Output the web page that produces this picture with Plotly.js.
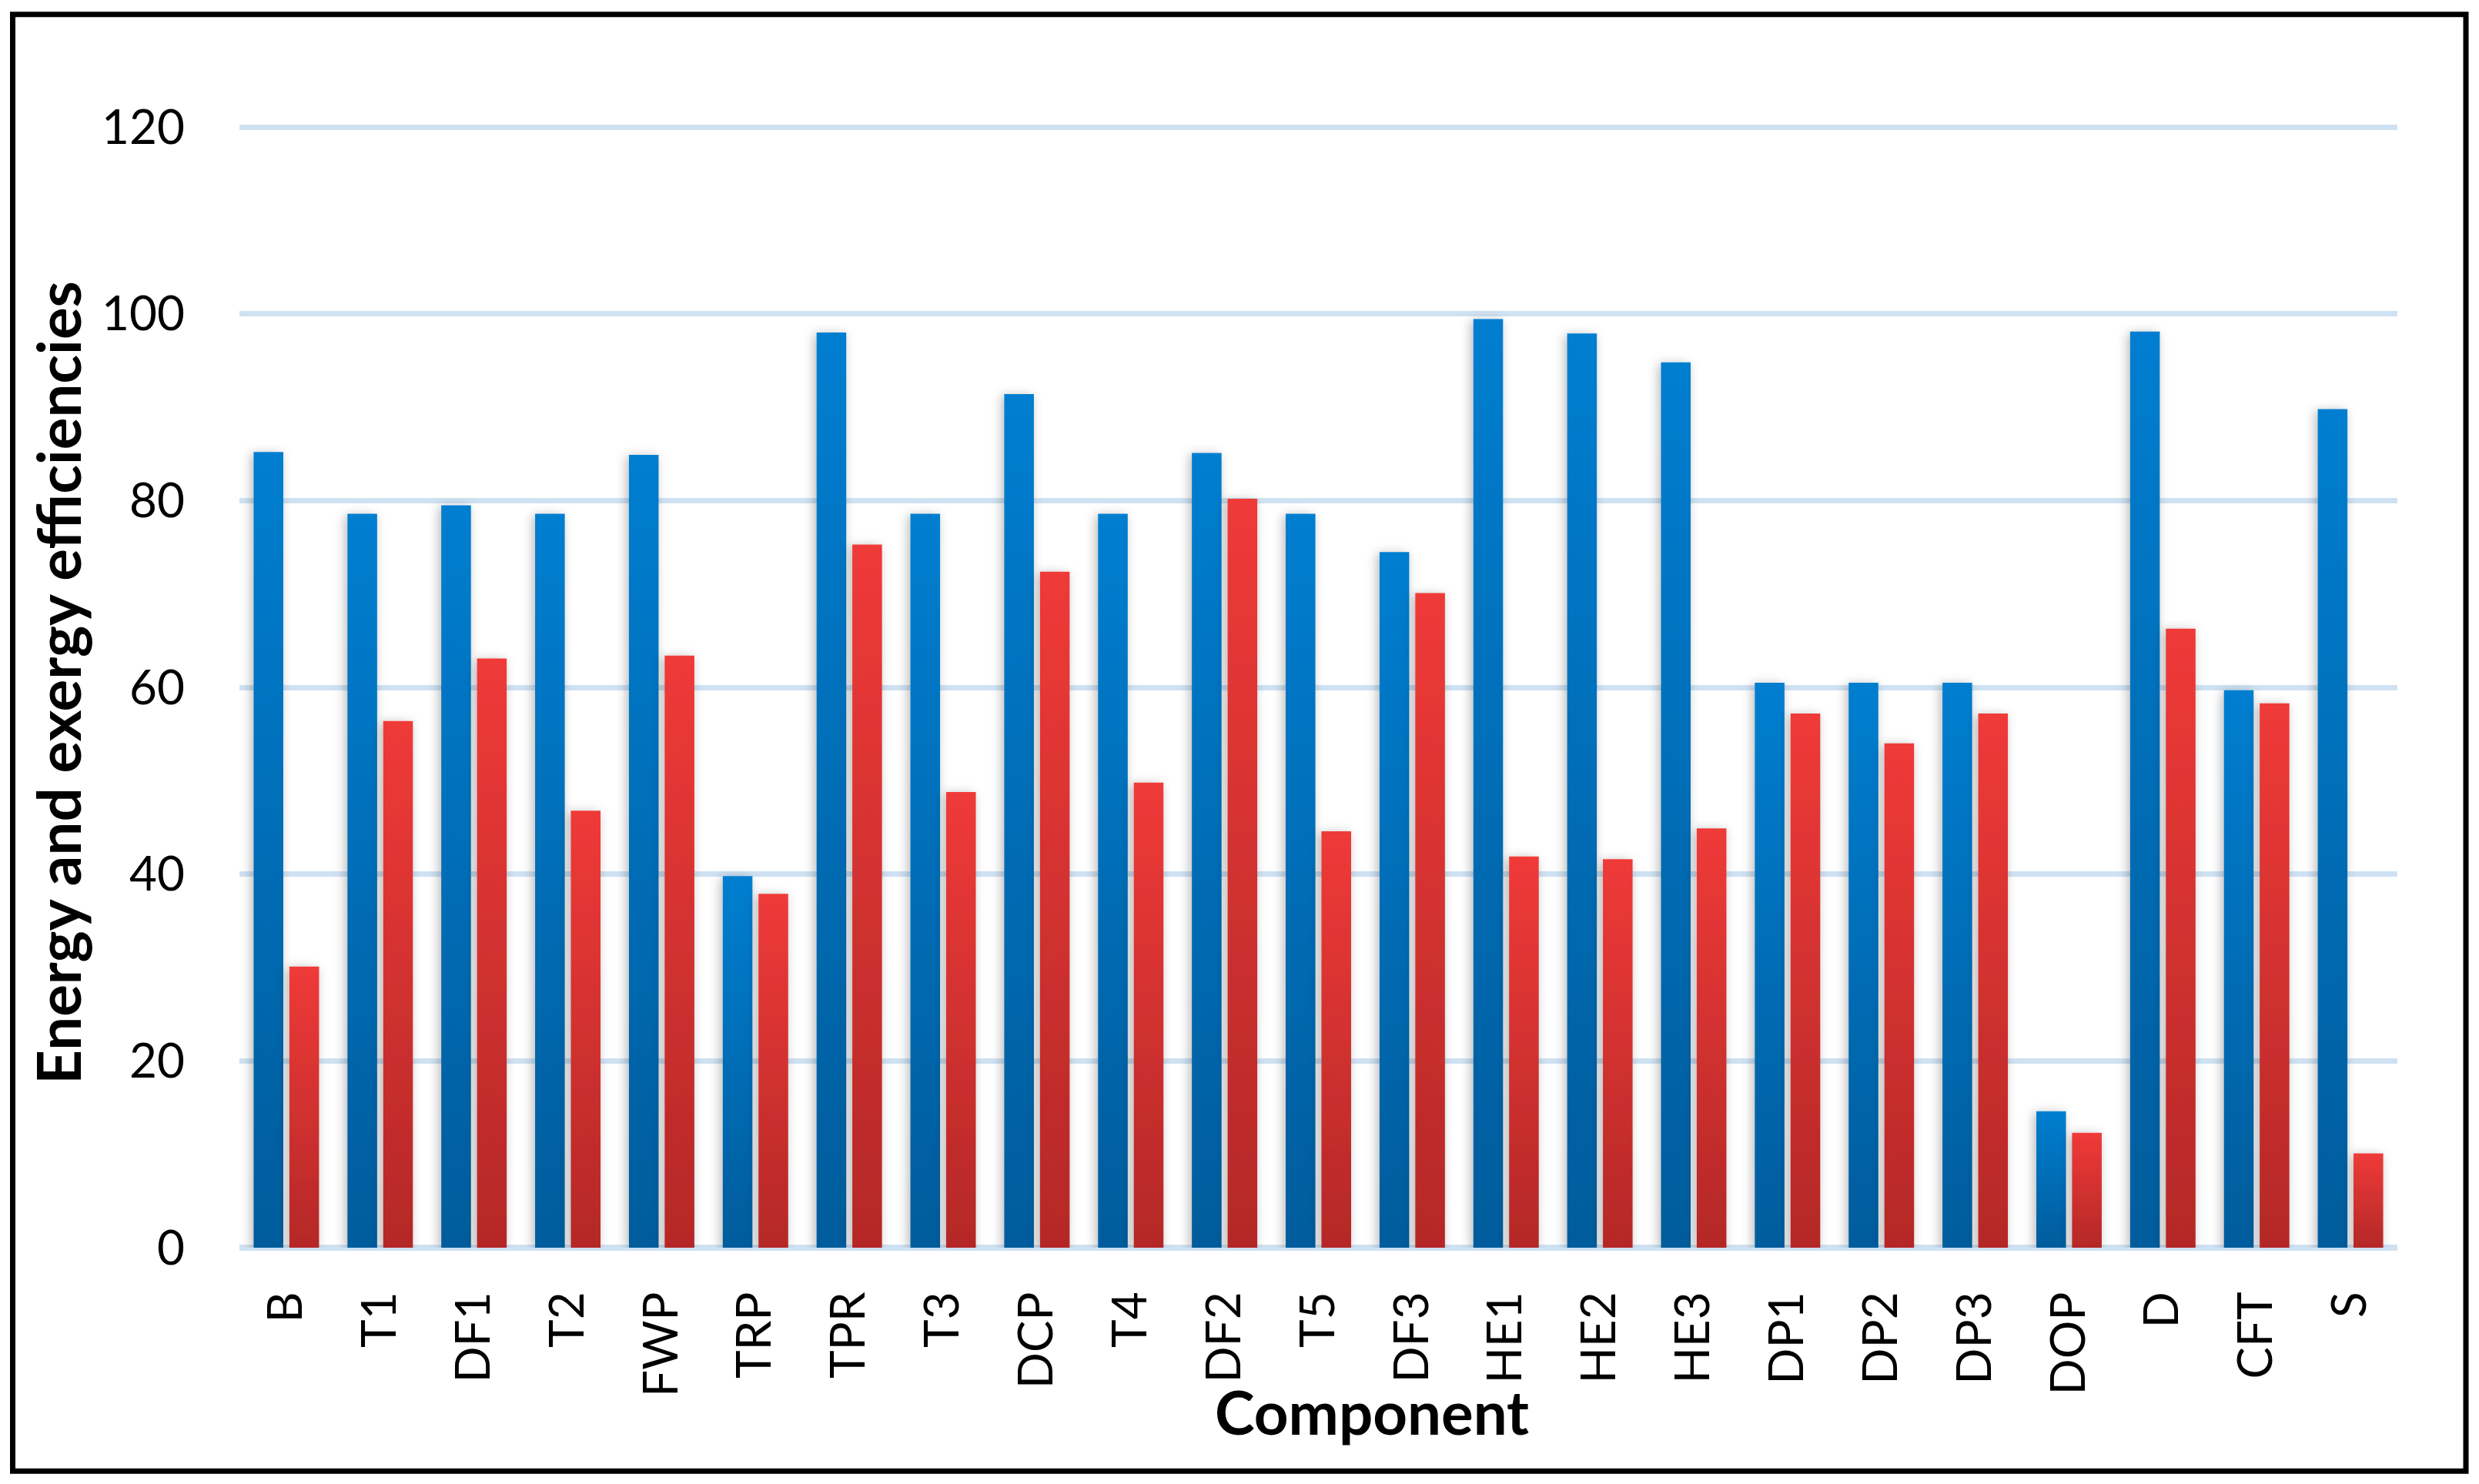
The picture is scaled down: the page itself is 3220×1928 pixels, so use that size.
<!DOCTYPE html>
<html>
<head>
<meta charset="utf-8">
<script src="https://cdn.plot.ly/plotly-3.0.1.min.js"></script>
<style>
  html, body { margin: 0; padding: 0; background: #ffffff; }
  #chart { width: 3220px; height: 1928px; }
</style>
</head>
<body>
<div id="chart"></div>
<script>
// ---- data ----
const components = ["B","T1","DF1","T2","FWP","TRP","TPR","T3","DCP","T4","DF2","T5","DF3","HE1","HE2","HE3","DP1","DP2","DP3","DOP","D","CFT","S"];
const energyEfficiency = [85.2,78.6,79.5,78.6,84.9,39.8,98.0,78.6,91.4,78.6,85.1,78.6,74.5,99.45,97.9,94.8,60.5,60.5,60.5,14.6,98.1,59.7,89.8];
const exergyEfficiency = [30.1,56.4,63.1,46.8,63.4,37.9,75.3,48.8,72.4,49.8,80.2,44.6,70.1,41.9,41.6,44.9,57.2,54.0,57.2,12.3,66.3,58.3,10.1];
const yTickValues = [0,20,40,60,80,100,120];
const yTitle = "Energy and exergy efficiencies";
const xTitle = "Component";

// ---- layout geometry (pixels) ----
const W = 3220, H = 1928;
const yMax = 121;                       // a little headroom so the 120 gridline is drawn
const pxPerUnit = (1621.5 - 165) / 120;
const plotL = 311, plotR = 3114, plotB = 1621.5;
const plotT = plotB - yMax * pxPerUnit;
const pw = plotR - plotL, ph = plotB - plotT;
const border = {l: 16.5, r: 3203, t: 18.5, b: 1912};
const xTitlePos = {x: 1782, y: 1835};
const FONT = 'Lato, "Open Sans", "Liberation Sans", sans-serif';
const grid = '#CFE2F3';

const traces = [
  {type: 'bar', name: 'Energy efficiency', x: components, y: energyEfficiency,
   marker: {color: '#0070B8', line: {width: 0}}, hoverinfo: 'x+y'},
  {type: 'bar', name: 'Exergy efficiency', x: components, y: exergyEfficiency,
   marker: {color: '#D83232', line: {width: 0}}, hoverinfo: 'x+y'}
];

const layout = {
  width: W, height: H,
  margin: {l: plotL, r: W - plotR, t: plotT, b: H - plotB, pad: 0},
  paper_bgcolor: '#ffffff', plot_bgcolor: '#ffffff',
  showlegend: false,
  barmode: 'group', bargap: 0.238, bargroupgap: 0.17,
  font: {family: FONT, color: '#000000', size: 62},
  xaxis: {
    type: 'category', range: [-0.5, components.length - 0.5],
    showgrid: false, showline: false, zeroline: false,
    ticks: '', tickangle: -90, ticklabelstandoff: 44,
    tickfont: {family: FONT, size: 62, color: '#000'},
    automargin: false
  },
  yaxis: {
    range: [0, yMax], tickvals: yTickValues,
    showgrid: true, gridcolor: grid, gridwidth: 7,
    zeroline: true, zerolinecolor: grid, zerolinewidth: 8,
    showline: false, ticks: '', ticklabelstandoff: 70,
    tickfont: {family: FONT, size: 62, color: '#000'},
    title: {text: yTitle, font: {family: FONT, size: 78, color: '#000', weight: 'bold'}, standoff: 0},
    automargin: false
  },
  annotations: [{
    text: xTitle, showarrow: false, xref: 'paper', yref: 'paper',
    x: (xTitlePos.x - plotL) / pw, y: (plotB - xTitlePos.y) / ph,
    xanchor: 'center', yanchor: 'middle',
    font: {family: FONT, size: 78, color: '#000', weight: 'bold'}
  }],
  shapes: [{
    type: 'rect', xref: 'paper', yref: 'paper', layer: 'above',
    x0: (border.l - plotL) / pw, x1: (border.r - plotL) / pw,
    y0: (plotB - border.b) / ph, y1: (plotB - border.t) / ph,
    line: {color: '#000000', width: 7}, fillcolor: 'rgba(0,0,0,0)'
  }]
};

Plotly.newPlot('chart', traces, layout, {staticPlot: true, displayModeBar: false}).then(function (gd) {
  const svg = gd.querySelector('svg.main-svg');
  const NS = 'http://www.w3.org/2000/svg';
  const defs = document.createElementNS(NS, 'defs');
  function grad(id, top, bottom) {
    const g = document.createElementNS(NS, 'linearGradient');
    g.setAttribute('id', id);
    g.setAttribute('x1', '0'); g.setAttribute('y1', '0');
    g.setAttribute('x2', '0'); g.setAttribute('y2', '1');
    [[0, top], [1, bottom]].forEach(function (s) {
      const st = document.createElementNS(NS, 'stop');
      st.setAttribute('offset', s[0]);
      st.setAttribute('stop-color', s[1]);
      g.appendChild(st);
    });
    defs.appendChild(g);
  }
  grad('gBlue', '#007ED0', '#005C9C');
  grad('gRed', '#EF3A38', '#B42827');
  const f = document.createElementNS(NS, 'filter');
  f.setAttribute('id', 'barShadow');
  f.setAttribute('x', '-60%'); f.setAttribute('y', '-10%');
  f.setAttribute('width', '220%'); f.setAttribute('height', '120%');
  const ds = document.createElementNS(NS, 'feDropShadow');
  ds.setAttribute('dx', '-3'); ds.setAttribute('dy', '2');
  ds.setAttribute('stdDeviation', '7');
  ds.setAttribute('flood-color', '#000');
  ds.setAttribute('flood-opacity', '0.28');
  f.appendChild(ds);
  defs.appendChild(f);
  svg.insertBefore(defs, svg.firstChild);
  const tr = gd.querySelectorAll('.barlayer .trace');
  tr.forEach(function (t, i) {
    t.querySelectorAll('path').forEach(function (p) {
      p.style.fill = i === 0 ? 'url(#gBlue)' : 'url(#gRed)';
      p.setAttribute('filter', 'url(#barShadow)');
    });
  });
});
</script>
</body>
</html>
